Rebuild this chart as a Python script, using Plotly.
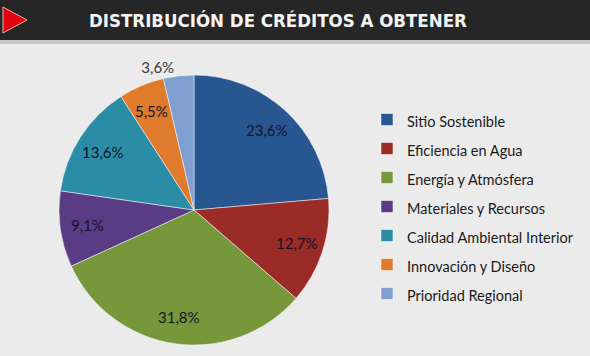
import math
import plotly.graph_objects as go

labels = ["Sitio Sostenible", "Eficiencia en Agua", "Energía y Atmósfera",
          "Materiales y Recursos", "Calidad Ambiental Interior",
          "Innovación y Diseño", "Prioridad Regional"]
credits = [26, 14, 35, 10, 15, 6, 4]
colors = ["#275690", "#9B2B26", "#77973B", "#5A3C85", "#2B8CA6", "#E07A2C", "#7F9FD0"]
title = "DISTRIBUCIÓN DE CRÉDITOS A OBTENER"

W, H = 590, 356
cx, cy, R = 194, 210, 135

legend_labels = [f"<span style='font-size:14.5px'>{l}</span>" for l in labels]
total = sum(credits)
pct_text = [f"{v / total * 100:.1f}".replace(".", ",") + "%" for v in credits]

# last (small) slice labelled outside by the pie itself, others via annotations
templates = [""] * 6 + ["%{percent:.1%}"]
text_pos = ["none"] * 6 + ["outside"]

fig = go.Figure(go.Pie(
    labels=legend_labels,
    values=credits,
    sort=False,
    direction="clockwise",
    rotation=0,
    marker=dict(colors=colors, line=dict(color="rgba(255,255,255,0.5)", width=1)),
    texttemplate=templates,
    textposition=text_pos,
    outsidetextfont=dict(family="Lato", size=15, color="#3a3a3a"),
    domain=dict(x=[(cx - R) / W, (cx + R) / W], y=[(H - cy - R) / H, (H - cy + R) / H]),
    hoverinfo="label+percent",
))

annotations = [
    dict(text=f"<b>{title}</b>", x=278 / W, y=1 - 21 / H, xref="paper", yref="paper",
         xanchor="center", yanchor="middle", showarrow=False,
         font=dict(family="DejaVu Sans Condensed", size=18.5, color="#F4F4F4")),
]
cum = 0
for v, t in zip(credits[:6], pct_text[:6]):
    mid = (cum + v / 2) / total * 2 * math.pi
    cum += v
    rr = 0.8 * R
    px = cx + rr * math.sin(mid)
    py = cy - rr * math.cos(mid)
    annotations.append(dict(text=t, x=px / W, y=1 - py / H, xref="paper", yref="paper",
                            xanchor="center", yanchor="middle", showarrow=False,
                            font=dict(family="Lato", size=15, color="#14142a")))

fig.update_layout(
    width=W, height=H,
    margin=dict(l=0, r=0, t=0, b=0),
    paper_bgcolor="#EBEBEB",
    plot_bgcolor="#EBEBEB",
    separators=",.",
    showlegend=True,
    legend=dict(
        x=(389 - 22) / W, xanchor="left",
        y=1 - 100 / H, yanchor="top",
        font=dict(family="Lato", size=20, color="#1a1a1a"),
        bgcolor="rgba(0,0,0,0)",
        itemclick=False,
    ),
    shapes=[
        dict(type="rect", xref="paper", yref="paper", x0=0, x1=1,
             y0=1 - 44 / H, y1=1 - 40 / H, fillcolor="#C8C8C8", line_width=0, layer="below"),
        dict(type="rect", xref="paper", yref="paper", x0=0, x1=1,
             y0=1 - 40 / H, y1=1, fillcolor="#262626", line_width=0, layer="below"),
        dict(type="path", xref="paper", yref="paper",
             path=f"M {3/W},{1-7/H} L {27/W},{1-20/H} L {3/W},{1-33/H} Z",
             fillcolor="#E3000F", line=dict(color="#E8B0A8", width=1)),
    ],
    annotations=annotations,
)

fig.write_html("out.html", config={"displayModeBar": False},
               post_script="document.body.style.margin='0';document.body.style.overflow='hidden';")
